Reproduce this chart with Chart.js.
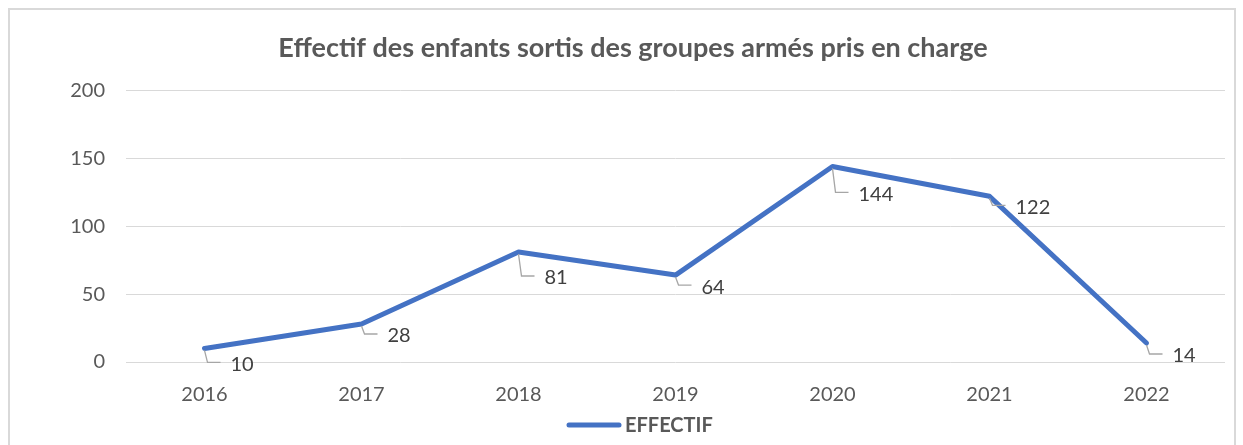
<!DOCTYPE html>
<html><head><meta charset="utf-8">
<script src="https://cdn.jsdelivr.net/npm/chart.js@4/dist/chart.umd.min.js"></script>
<style>html,body{margin:0;padding:0;background:#fff;overflow:hidden}#wrap{width:1243px;height:445px;position:relative}</style>
</head><body><div id="wrap"><canvas id="c" width="1243" height="445"></canvas></div>
<script>
const categories = ['2016','2017','2018','2019','2020','2021','2022'];
const effectif = [10, 28, 81, 64, 144, 122, 14];
const yTicks = [0, 50, 100, 150, 200];
const seriesName = 'EFFECTIF';
const chartTitle = 'Effectif des enfants sortis des groupes armés pris en charge';
// label vertical offsets below each point (layout only)
const labelDy = [16, 12, 26, 12, 28, 11, 13];

const FONT = 'Lato, "Open Sans", "Liberation Sans", sans-serif';
const LINE_COLOR = '#4472C4';

const decorPlugin = {
  id: 'decor',
  beforeDraw(chart) {
    const ctx = chart.ctx;
    ctx.save();
    ctx.strokeStyle = '#d9d9d9';
    ctx.lineWidth = 2;
    ctx.strokeRect(9, 9, 1226, 445);
    ctx.restore();
  },
  afterDraw(chart) {
    const ctx = chart.ctx;
    ctx.save();
    // title, centred like the reference
    const tb = chart.titleBlock;
    ctx.fillStyle = '#595959';
    ctx.font = 'bold 27px ' + FONT;
    ctx.textAlign = 'center';
    ctx.textBaseline = 'middle';
    ctx.fillText(chartTitle, 633, tb.top + tb.height / 2 - 2);
    // legend
    const ly = 425;
    ctx.strokeStyle = LINE_COLOR;
    ctx.lineWidth = 5;
    ctx.lineCap = 'round';
    ctx.beginPath();
    ctx.moveTo(569, ly);
    ctx.lineTo(619, ly);
    ctx.stroke();
    ctx.font = 'bold 20px ' + FONT;
    ctx.textAlign = 'left';
    ctx.fillText(seriesName, 625, ly + 1);
    ctx.restore();
  },
  afterDatasetsDraw(chart) {
    const ctx = chart.ctx;
    const meta = chart.getDatasetMeta(0);
    ctx.save();
    meta.data.forEach((pt, i) => {
      const x = pt.x, y = pt.y;
      const ly = y + labelDy[i];
      const lx = x + 26;
      ctx.strokeStyle = '#a6a6a6';
      ctx.lineWidth = 1.3;
      ctx.beginPath();
      ctx.moveTo(x, y + 2);
      ctx.lineTo(x + 3, ly - 2);
      ctx.lineTo(lx - 10, ly - 2);
      ctx.stroke();
      ctx.fillStyle = '#404040';
      ctx.font = '20px ' + FONT;
      ctx.textAlign = 'left';
      ctx.textBaseline = 'middle';
      ctx.fillText(String(effectif[i]), lx, ly);
    });
    ctx.restore();
  }
};

new Chart(document.getElementById('c'), {
  type: 'line',
  data: {
    labels: categories,
    datasets: [{
      label: seriesName,
      data: effectif,
      borderColor: LINE_COLOR,
      backgroundColor: LINE_COLOR,
      borderWidth: 5,
      pointRadius: 0,
      pointHoverRadius: 0,
      borderJoinStyle: 'round',
      borderCapStyle: 'round',
      tension: 0
    }]
  },
  options: {
    responsive: false,
    animation: false,
    layout: { padding: { left: 0, right: 18, top: 10, bottom: 38 } },
    plugins: {
      title: {
        display: true,
        text: chartTitle,
        color: 'rgba(0,0,0,0)',
        font: { family: FONT, size: 27, weight: 'bold' },
        padding: { top: 21, bottom: 27 }
      },
      legend: { display: false },
      tooltip: { enabled: false }
    },
    scales: {
      x: {
        offset: true,
        grid: { display: false, drawTicks: false },
        border: { display: false },
        ticks: { color: '#595959', font: { family: FONT, size: 20 }, padding: 21 },
        afterFit(s) { s.height = 45; }
      },
      y: {
        min: 0, max: 200,
        afterBuildTicks(s) { s.ticks = yTicks.map(v => ({ value: v })); },
        grid: { color: '#d9d9d9', lineWidth: 1, drawTicks: false },
        border: { display: false },
        ticks: { color: '#595959', font: { family: FONT, size: 20 }, padding: 21 },
        afterFit(s) { s.width = 126; }
      }
    }
  },
  plugins: [decorPlugin]
});
</script></body></html>
